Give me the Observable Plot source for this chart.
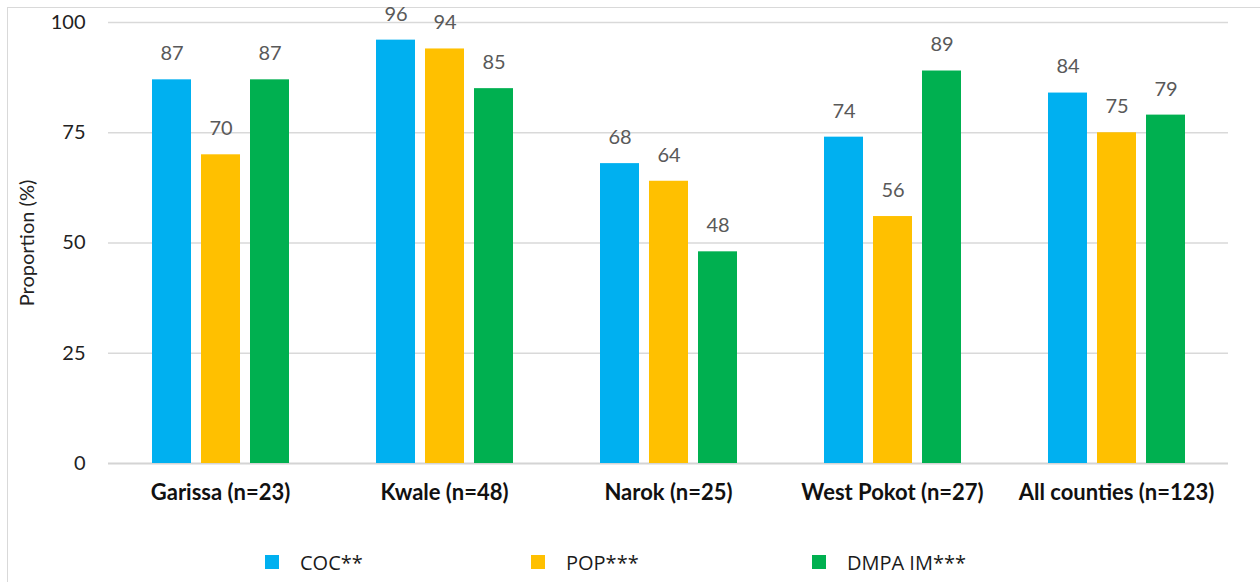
<!DOCTYPE html>
<html>
<head>
<meta charset="utf-8">
<script src="https://cdn.jsdelivr.net/npm/d3@7"></script>
<script src="https://cdn.jsdelivr.net/npm/@observablehq/plot@0.6"></script>
<style>
  html, body { margin: 0; padding: 0; background: #fff; }
  #wrap { position: relative; width: 1260px; height: 582px; overflow: hidden; font-family: Lato, "Open Sans", sans-serif; }
  #frame { position: absolute; left: 7px; top: 7px; width: 1300px; height: 620px; border: 1.5px solid #d9d9d9; box-sizing: border-box; }
  #chart { position: absolute; left: 0; top: 0; }
  #legend { position: absolute; left: 0; top: 549px; width: 1260px; height: 26px; }
  .item { position: absolute; top: 0; display: flex; align-items: center; height: 26px; font-family: "Open Sans", sans-serif; font-size: 20px; color: #1a1a1a; }
  .swatch { width: 14px; height: 14px; margin-right: 21px; }
</style>
</head>
<body>
<div id="wrap">
  <div id="frame"></div>
  <div id="chart"></div>
  <div id="legend"></div>
</div>
<script>
// Counties (with sample sizes) and contraceptive methods
const counties = ["Garissa (n=23)", "Kwale (n=48)", "Narok (n=25)", "West Pokot (n=27)", "All counties (n=123)"];
const methods = ["COC**", "POP***", "DMPA IM***"];
const methodColors = ["#00B0F0", "#FFC000", "#00B050"];

// Proportion (%) per county, one array per method
const cocValues = [87, 96, 68, 74, 84];
const popValues = [70, 94, 64, 56, 75];
const dmpaValues = [87, 85, 48, 89, 79];

const yTicks = [0, 25, 50, 75, 100];

const seriesValues = [cocValues, popValues, dmpaValues];
const rows = [];
counties.forEach((county, i) => {
  methods.forEach((method, j) => {
    rows.push({county, method, value: seriesValues[j][i]});
  });
});

const chart = Plot.plot({
  width: 1260,
  height: 520,
  marginTop: 22,
  marginBottom: 57,
  marginLeft: 108,
  marginRight: 32,
  style: {background: "transparent", fontFamily: "Lato, 'Open Sans', sans-serif"},
  fx: {domain: counties, padding: 0, label: null},
  x: {domain: methods, paddingInner: 0.212, paddingOuter: 0.868, axis: null},
  y: {domain: [0, 100], label: "Proportion (%)", labelAnchor: "center"},
  color: {domain: methods, range: methodColors},
  marks: [
    Plot.gridY(yTicks.slice(1), {stroke: "#d9d9d9", strokeOpacity: 1, strokeWidth: 1.5}),
    Plot.ruleY([0], {stroke: "#d4d4d4", strokeWidth: 2}),
    Plot.barY(rows, {fx: "county", x: "method", y: "value", fill: "method"}),
    Plot.text(rows, {fx: "county", x: "method", y: "value", text: d => String(d.value),
      dy: -26, fill: "#595959", fontSize: 20}),
    Plot.axisY({ticks: yTicks, tickSize: 0, tickPadding: 23, fontSize: 20, fill: "#222",
      label: "Proportion (%)", labelAnchor: "center", labelArrow: "none", labelOffset: 89}),
    Plot.axisFx({anchor: "bottom", tickSize: 0, tickPadding: 21, fontSize: 22, fontWeight: "bold",
      fill: "#111", label: null})
  ]
});
document.getElementById("chart").appendChild(chart);

// Legend row below the chart
const legendX = [265, 531, 812];
const legend = document.getElementById("legend");
methods.forEach((m, i) => {
  const item = document.createElement("div");
  item.className = "item";
  item.style.left = legendX[i] + "px";
  const sw = document.createElement("span");
  sw.className = "swatch";
  sw.style.background = methodColors[i];
  const label = document.createElement("span");
  label.textContent = m;
  item.appendChild(sw);
  item.appendChild(label);
  legend.appendChild(item);
});
</script>
</body>
</html>
